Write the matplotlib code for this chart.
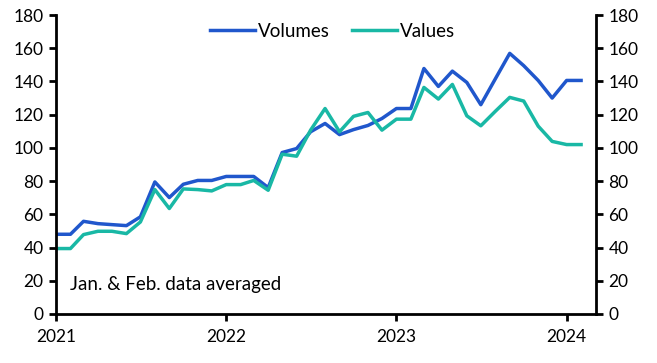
import matplotlib
matplotlib.use("Agg")
import matplotlib.pyplot as plt
import pandas as pd

plt.rcParams['font.family'] = ['Lato', 'DejaVu Sans']

dates = pd.date_range("2021-01-01", periods=38, freq="MS")
volumes = [48, 48, 55.8, 54.4, 53.8, 53.2, 58.5, 79.5, 70.1, 78.1, 80.4, 80.4,
           82.8, 82.8, 82.8, 76.1, 97.2, 99.6, 109.7, 114.7, 108, 111, 113.5, 117.7,
           123.7, 123.7, 147.8, 137, 146.2, 139.4, 126, 141.5, 156.9, 149.5, 140.6, 130,
           140.6, 140.6]
values = [39.4, 39.4, 47.8, 49.8, 49.8, 48.4, 55.4, 74.9, 63.5, 75.3, 74.9, 74.1,
          77.9, 77.9, 80.4, 74.5, 96.2, 95, 110.7, 123.7, 109.7, 119, 121.3, 110.7,
          117.3, 117.3, 136.4, 129.4, 138.2, 119.3, 113.3, 122, 130.4, 128.2, 113.1, 103.9,
          102, 102]
yticks = [0, 20, 40, 60, 80, 100, 120, 140, 160, 180]
xtick_years = ["2021", "2022", "2023", "2024"]

fig = plt.figure(figsize=(6.57, 3.63), dpi=100)
ax = fig.add_axes([56/657, 1-314/363, (596-56)/657, (314-15)/363])

ax.plot(dates, volumes, color="#2057CC", lw=2.5, label="Volumes")
ax.plot(dates, values, color="#19B8A5", lw=2.5, label="Values")

ax.set_ylim(0, 180)
ax.set_yticks(yticks)
ax.set_xlim(pd.Timestamp("2021-01-01"), pd.Timestamp("2024-03-04"))
ax.set_xticks([pd.Timestamp(y + "-01-01") for y in xtick_years])
ax.set_xticklabels(xtick_years)

for s in ["left", "right", "bottom"]:
    ax.spines[s].set_linewidth(2)
ax.spines["top"].set_visible(False)
ax.tick_params(axis="y", which="both", left=True, right=True, labelleft=True,
               labelright=True, direction="out", length=5, width=2,
               labelsize=12.5, pad=4)
ax.tick_params(axis="x", direction="out", length=5, width=2, labelsize=12.5, pad=6)

ax.legend(loc="upper center", ncol=2, frameon=False, fontsize=13.5,
          handlelength=2.4, handletextpad=0.15, columnspacing=1.2,
          bbox_to_anchor=(0.512, 1.03))
ax.text(0.025, 0.1, "Jan. & Feb. data averaged", transform=ax.transAxes,
        fontsize=13.5, va="center", ha="left")

fig.savefig("out.png", dpi=100)
